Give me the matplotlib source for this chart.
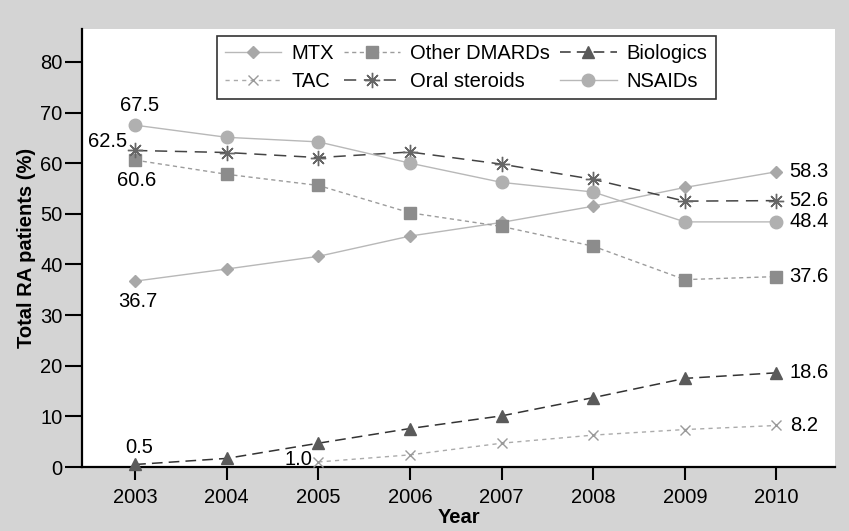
import matplotlib
matplotlib.use("Agg")
import matplotlib.pyplot as plt
import numpy as np

plt.rcParams['font.family'] = ['Liberation Sans', 'DejaVu Sans']

years = [2003, 2004, 2005, 2006, 2007, 2008, 2009, 2010]
mtx = [36.7, 39.1, 41.6, 45.6, 48.3, 51.5, 55.2, 58.3]
other_dmards = [60.6, 57.8, 55.6, 50.2, 47.5, 43.6, 37.0, 37.6]
biologics = [0.5, 1.7, 4.7, 7.6, 10.1, 13.7, 17.5, 18.6]
tac = [np.nan, np.nan, 1.0, 2.4, 4.7, 6.3, 7.4, 8.2]
oral_steroids = [62.5, 62.1, 61.1, 62.2, 59.8, 56.8, 52.5, 52.6]
nsaids = [67.5, 65.1, 64.2, 60.0, 56.2, 54.3, 48.4, 48.4]
yticks = [0, 10, 20, 30, 40, 50, 60, 70, 80]

fs = 14.5

fig = plt.figure(figsize=(8.49, 5.31), dpi=100, facecolor='#d4d4d4')
ax = fig.add_axes([0.0966, 0.1205, 0.887, 0.825])
ax.set_facecolor('white')

common = dict(clip_on=False, zorder=3)
l_mtx, = ax.plot(years, mtx, color='#b8b8b8', lw=1.0, marker='D', ms=6,
                 mfc='#a8a8a8', mec='#a8a8a8', label='MTX', **common)
l_dm, = ax.plot(years, other_dmards, color='#9c9c9c', lw=1.0, ls=(0, (3, 2.5)),
                marker='s', ms=8, mfc='#8c8c8c', mec='#8c8c8c',
                label='Other DMARDs', **common)
l_bio, = ax.plot(years, biologics, color='#333333', lw=1.1, ls=(0, (7, 4)),
                 marker='^', ms=8, mfc='#5a5a5a', mec='#5a5a5a',
                 label='Biologics', **common)
l_tac, = ax.plot(years, tac, color='#ababab', lw=1.0, ls=(0, (3, 3)),
                 marker='x', ms=7, mew=1.0, mfc='none', mec='#9a9a9a',
                 label='TAC', **common)
l_os, = ax.plot(years, oral_steroids, color='#444444', lw=1.1, ls=(0, (8, 5)),
                marker=(8, 2, 0), ms=11, mew=1.0, mec='#666666',
                label='Oral steroids', **common)
l_ns, = ax.plot(years, nsaids, color='#b8b8b8', lw=1.0, marker='o', ms=9,
                mfc='#b0b0b0', mec='#b0b0b0', label='NSAIDs', **common)

ax.set_xlim(2002.42, 2010.64)
ax.set_ylim(0, 86.5)
ax.set_xticks(years)
ax.set_yticks(yticks)
ax.tick_params(axis='both', labelsize=fs, direction='out', width=1.5,
               color='black')
ax.tick_params(axis='y', length=12, pad=2)
ax.tick_params(axis='x', length=9, pad=6)
for s in ['top', 'right']:
    ax.spines[s].set_visible(False)
for s in ['left', 'bottom']:
    ax.spines[s].set_linewidth(1.6)

ax.set_xlabel('Year', fontsize=fs, fontweight='bold', labelpad=1)
ax.set_ylabel('Total RA patients (%)', fontsize=fs, fontweight='bold',
              labelpad=3)

# start-of-period values
ax.annotate(f'{nsaids[0]:.1f}', (years[0], nsaids[0]), xytext=(3, 14.5),
            textcoords='offset points', ha='center', va='center', fontsize=fs)
ax.annotate(f'{oral_steroids[0]:.1f}', (years[0], oral_steroids[0]),
            xytext=(-6, 6.5), textcoords='offset points', ha='right',
            va='center', fontsize=fs)
ax.annotate(f'{other_dmards[0]:.1f}', (years[0], other_dmards[0]),
            xytext=(1, -14.5), textcoords='offset points', ha='center',
            va='center', fontsize=fs)
ax.annotate(f'{mtx[0]:.1f}', (years[0], mtx[0]), xytext=(2, -14.5),
            textcoords='offset points', ha='center', va='center', fontsize=fs)
ax.annotate(f'{biologics[0]:.1f}', (years[0], biologics[0]), xytext=(3, 12.5),
            textcoords='offset points', ha='center', va='center', fontsize=fs)
ax.annotate(f'{tac[2]:.1f}', (years[2], tac[2]), xytext=(-4, 2),
            textcoords='offset points', ha='right', va='center', fontsize=fs)

# end-of-period values
for series in [mtx, oral_steroids, nsaids, other_dmards, biologics, tac]:
    ax.annotate(f'{series[-1]:.1f}', (years[-1], series[-1]), xytext=(9.5, 0),
                textcoords='offset points', ha='left', va='center',
                fontsize=fs)

handles = [l_mtx, l_tac, l_dm, l_os, l_bio, l_ns]
leg = ax.legend(handles=handles, ncol=3, fontsize=fs, loc='upper left',
                bbox_to_anchor=(0.179, 0.984), frameon=True, fancybox=False,
                edgecolor='black', handlelength=2.8, columnspacing=0.5,
                handletextpad=0.5, borderpad=0.4, labelspacing=0.45,
                borderaxespad=0)
leg.get_frame().set_linewidth(1.2)

fig.savefig('out.png', dpi=100, facecolor=fig.get_facecolor())
